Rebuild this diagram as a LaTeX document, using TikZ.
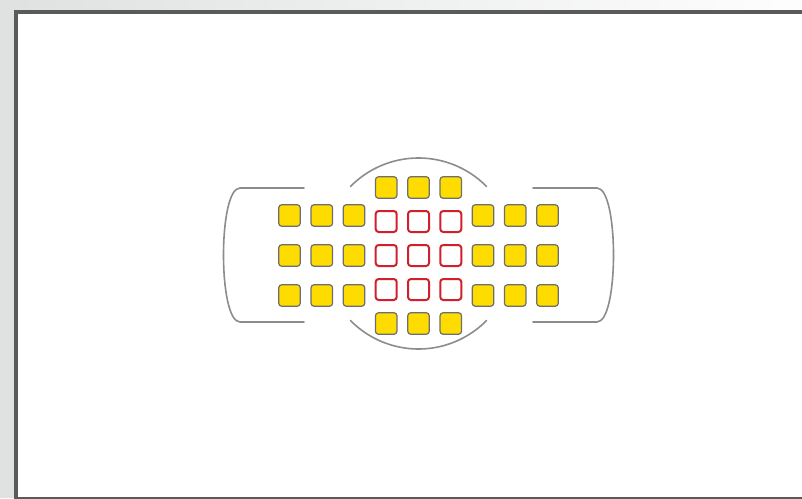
\documentclass[tikz,border=0pt]{standalone}
\definecolor{bggray}{HTML}{E0E2E2}
\definecolor{framegray}{HTML}{5A5A5A}
\definecolor{linegray}{HTML}{8C8C8C}
\definecolor{afyellow}{HTML}{FFDC00}
\definecolor{afedge}{HTML}{6E6E6E}
\definecolor{afred}{HTML}{D0202A}
\tikzset{
  ysq/.style={draw=afedge, fill=afyellow, line width=1.2pt, rounded corners=3pt,
    minimum width=21.5pt, minimum height=21.5pt, inner sep=0pt, outer sep=0pt},
  rsq/.style={draw=afred, fill=white, line width=2pt, rounded corners=3pt,
    minimum width=21pt, minimum height=21pt, inner sep=0pt, outer sep=0pt},
  guide/.style={draw=linegray, line width=1.6pt, line cap=round}
}
\begin{document}
\begin{tikzpicture}[x=1pt,y=-1pt]
\useasboundingbox (0,0) rectangle (802,498);
\clip (0,0) rectangle (802,498);
\fill[bggray] (0,0) rectangle (802,498);
\shade[left color=bggray, right color=white!95!bggray] (16,0) rectangle (802,10);
% frame
\draw[framegray, line width=4pt, fill=white] (15.5,11.5) rectangle (840,498.5);
% centre of layout
\coordinate (c) at (418.5,253.5);
% side columns (3 rows)
\foreach \i/\cx in {1/289.5,2/321.8,3/354.0,7/483.0,8/515.2,9/547.5}{
  \foreach \j/\cy in {1/215.5,2/255.5,3/295.5}{
    \node[ysq] (s\i\j) at (\cx,\cy) {};
  }
}
% centre columns
\foreach \i/\cx in {4/386.2,5/418.5,6/450.8}{
  \node[ysq] (s\i1) at (\cx,187.5) {};
  \node[rsq] (s\i2) at (\cx,221.5) {};
  \node[rsq] (s\i3) at (\cx,255.5) {};
  \node[rsq] (s\i4) at (\cx,289.5) {};
  \node[ysq] (s\i5) at (\cx,323.5) {};
}
% circle arcs
\draw[guide] ([shift={(135.4:95.5pt)}]c) arc[start angle=135.4, end angle=44.6, radius=95.5pt];
\draw[guide] ([shift={(224.6:95.5pt)}]c) arc[start angle=224.6, end angle=315.4, radius=95.5pt];
% brackets
\draw[guide] (304,188) -- (240,188) .. controls (218,188) and (218,322) .. (240,322) -- (304,322);
\draw[guide] (533,188) -- (597,188) .. controls (619,188) and (619,322) .. (597,322) -- (533,322);
\end{tikzpicture}
\end{document}
